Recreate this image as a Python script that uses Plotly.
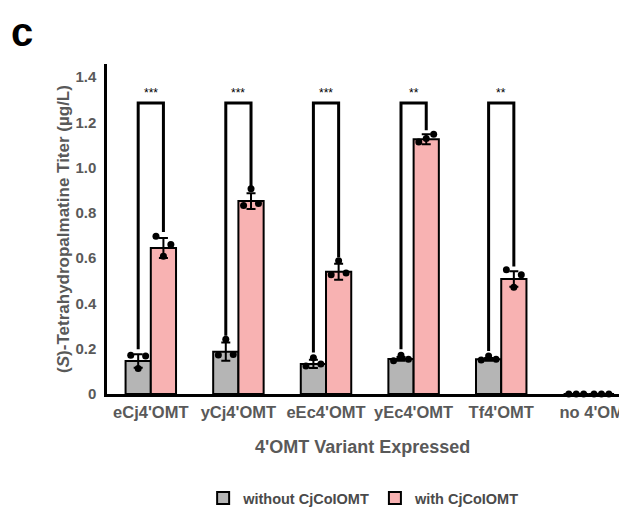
import plotly.graph_objects as go

# ---- data ----
categories = ["eCj4'OMT", "yCj4'OMT", "eEc4'OMT", "yEc4'OMT", "Tf4'OMT", "no 4'OMT"]
without_mean = [0.146, 0.187, 0.133, 0.155, 0.153, 0.0]
with_mean = [0.645, 0.852, 0.540, 1.125, 0.508, 0.0]
without_err = [0.030, 0.040, 0.018, 0.008, 0.006, 0.0]
with_err = [0.044, 0.035, 0.035, 0.022, 0.034, 0.0]
without_reps = [[0.171, 0.113, 0.168], [0.172, 0.242, 0.175], [0.124, 0.160, 0.132],
                [0.147, 0.171, 0.153], [0.150, 0.168, 0.153], [0.0, 0.0, 0.0]]
with_reps = [[0.697, 0.608, 0.660], [0.833, 0.906, 0.841], [0.527, 0.589, 0.534],
             [1.113, 1.128, 1.147], [0.549, 0.472, 0.527], [0.0, 0.0, 0.0]]
# significance brackets (groups 0..4)
sig_labels = ["***", "***", "***", "**", "**"]
sig_top = [1.285, 1.285, 1.285, 1.285, 1.285]
sig_left_end = [0.198, 0.257, 0.183, 0.198, 0.190]
sig_right_end = [0.715, 0.914, 0.604, 1.165, 0.563]
y_ticks = [0, 0.2, 0.4, 0.6, 0.8, 1.0, 1.2, 1.4]
y_tick_text = ["0", "0.2", "0.4", "0.6", "0.8", "1.0", "1.2", "1.4"]
x_title = "4'OMT Variant Expressed"
y_title = "(<i>S</i>)-Tetrahydropalmatine Titer (µg/L)"

GRAY = "#b5b5b5"
PINK = "#f8b2b2"
TXT = "#595959"
FONT = "Liberation Sans, Arial, sans-serif"
off = 0.144
bw = 0.288
jit = [-0.085, 0.0, 0.085]

n = len(categories)
xs = list(range(n))
# the last category label sits slightly right of its group in the reference
tick_pos = [i + (0.09 if i == n - 1 else 0.0) for i in xs]

fig = go.Figure()

fig.add_trace(go.Bar(
    x=[i - off for i in xs], y=without_mean, width=bw, name="<b>without CjCoIOMT</b>",
    marker=dict(color=GRAY, line=dict(color="black", width=2)),
    error_y=dict(type="data", array=without_err, color="black", thickness=2, width=4.5),
))
fig.add_trace(go.Bar(
    x=[i + off for i in xs], y=with_mean, width=bw, name="<b>with CjCoIOMT</b>",
    marker=dict(color=PINK, line=dict(color="black", width=2)),
    error_y=dict(type="data", array=with_err, color="black", thickness=2, width=4.5),
))

# replicate dots
dx, dy = [], []
for i in xs:
    for j, v in enumerate(without_reps[i]):
        dx.append(i - off + jit[j]); dy.append(v)
    for j, v in enumerate(with_reps[i]):
        dx.append(i + off + jit[j]); dy.append(v)
fig.add_trace(go.Scatter(x=dx, y=dy, mode="markers", showlegend=False, cliponaxis=False,
                         marker=dict(color="black", size=7), hoverinfo="skip"))

# brackets
for i, lab in enumerate(sig_labels):
    fig.add_trace(go.Scatter(
        x=[i - off, i - off, i + off, i + off],
        y=[sig_left_end[i], sig_top[i], sig_top[i], sig_right_end[i]],
        mode="lines", line=dict(color="black", width=3), showlegend=False, hoverinfo="skip"))
    fig.add_annotation(x=i, y=sig_top[i], text=lab, showarrow=False, yanchor="bottom",
                       yshift=1, font=dict(size=12, color="black", family=FONT))

fig.add_annotation(xref="paper", yref="paper", x=-0.185, y=1.097, text="<b>c</b>",
                   showarrow=False, xanchor="left", yanchor="middle",
                   font=dict(size=40, color="black", family=FONT))

# x-axis title (centred like the reference)
fig.add_annotation(xref="paper", yref="paper", x=0.483, y=-0.1606, text="<b>%s</b>" % x_title,
                   showarrow=False, xanchor="center", yanchor="middle",
                   font=dict(size=18, color=TXT, family=FONT))

fig.update_layout(
    width=627, height=508,
    margin=dict(l=99, r=0, t=56, b=122),
    plot_bgcolor="white", paper_bgcolor="white",
    font=dict(family=FONT, color=TXT),
    barmode="overlay",
    showlegend=True,
    legend=dict(orientation="h", x=0.487, xanchor="center", y=-0.315, yanchor="middle",
                font=dict(size=14.5, color="#4a4a4a", family=FONT), traceorder="normal"),
    xaxis=dict(range=[-0.5, 5.527], tickvals=tick_pos, ticktext=["<b>%s</b>" % c for c in categories],
               showline=True, linecolor="black", linewidth=2.5, showgrid=False, zeroline=False,
               ticks="outside", ticklen=1, tickcolor="rgba(0,0,0,0)",
               tickfont=dict(size=16.5, color=TXT), automargin=False),
    yaxis=dict(range=[0, 1.4575], tickvals=y_ticks, ticktext=["<b>%s</b>" % t for t in y_tick_text],
               showline=True, linecolor="black", linewidth=2.5, showgrid=False, zeroline=False,
               ticks="outside", ticklen=5, tickcolor="rgba(0,0,0,0)",
               tickfont=dict(size=15, color=TXT), automargin=False,
               title=dict(text="<b>%s</b>" % y_title,
                          font=dict(size=17, color=TXT), standoff=2)),
)

fig.write_html("out.html")
